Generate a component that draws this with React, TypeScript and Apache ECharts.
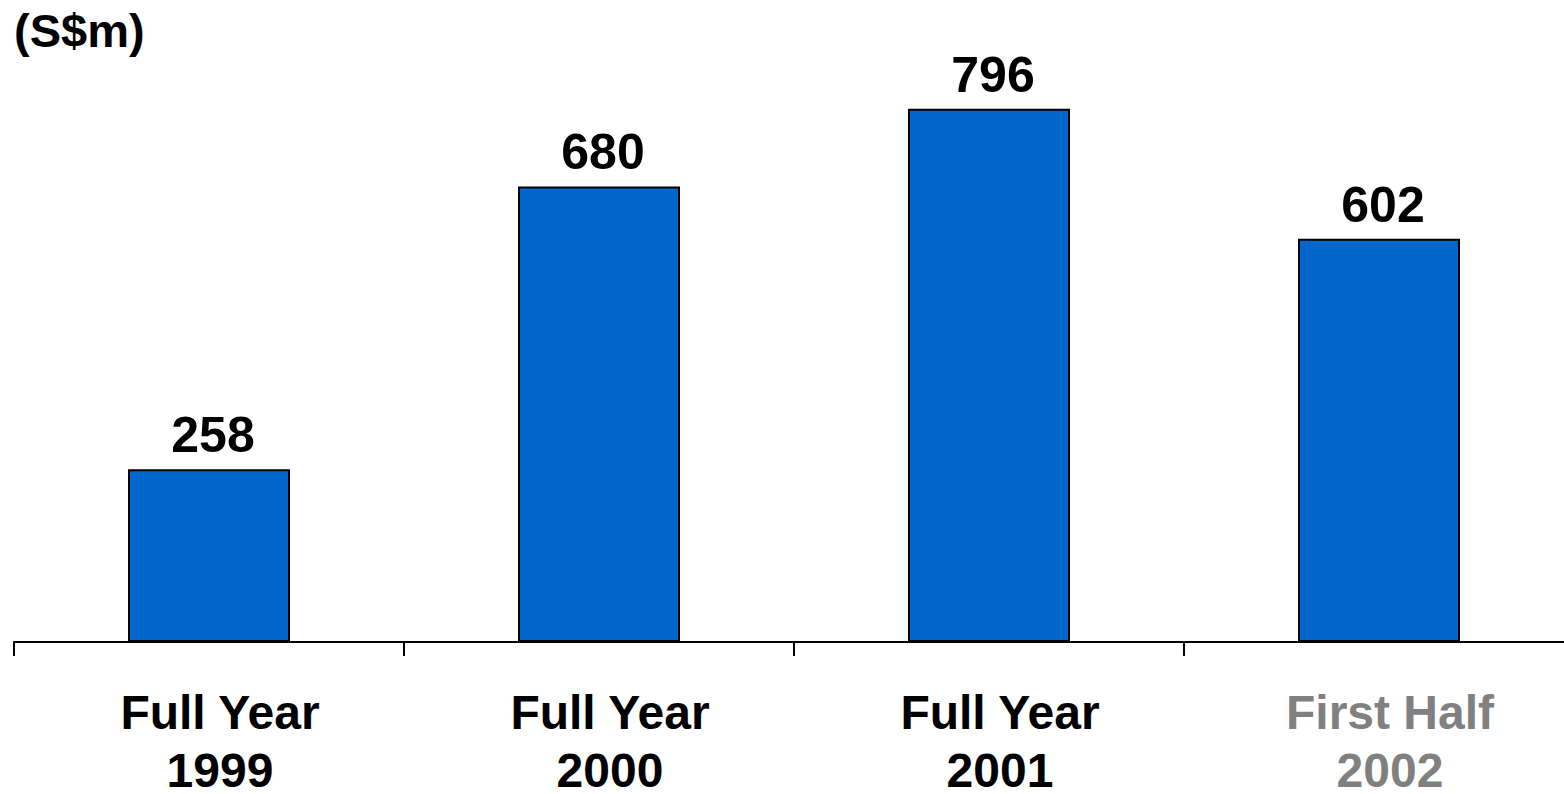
import React, { useEffect, useRef } from "react";
import * as echarts from "echarts";

const categories = ["Full Year\n1999", "Full Year\n2000", "Full Year\n2001", "First Half\n2002"];
const values = [258, 680, 796, 602];
const categoryColors = ["#000000", "#000000", "#000000", "#808080"];
const unitLabel = "(S$m)";

const FONT = '"Liberation Sans", Arial, Helvetica, sans-serif';

export default function App() {
  const ref = useRef<HTMLDivElement>(null);

  useEffect(() => {
    if (!ref.current) return;
    const chart = echarts.init(ref.current, undefined, { renderer: "svg" });
    chart.setOption({
      animation: false,
      backgroundColor: "#ffffff",
      title: {
        text: unitLabel,
        left: 14,
        top: 7,
        padding: 0,
        textStyle: { fontFamily: FONT, fontSize: 47, fontWeight: "bold", color: "#000", lineHeight: 47 },
      },
      grid: {
        left: 14,
        top: 39,
        width: 1560,
        height: 603,
        containLabel: false,
        outerBoundsMode: "none",
      },
      xAxis: {
        type: "category",
        data: categories.map((c, i) => ({ value: c, textStyle: { color: categoryColors[i] } })),
        boundaryGap: true,
        axisLine: { show: true, lineStyle: { color: "#000", width: 2 } },
        axisTick: { show: true, length: 14, lineStyle: { color: "#000", width: 2 } },
        axisLabel: {
          interval: 0,
          margin: 41,
          fontFamily: FONT,
          fontSize: 48,
          fontWeight: "bold",
          lineHeight: 58,
          padding: [0, 0, 0, 22],
        },
      },
      yAxis: {
        type: "value",
        min: 0,
        max: 900,
        show: false,
        splitLine: { show: false },
      },
      series: [
        {
          type: "bar",
          data: values,
          barWidth: 162,
          itemStyle: { color: "#0066CC", borderColor: "#000", borderWidth: 2 },
          label: {
            show: true,
            position: "top",
            distance: 9,
            padding: [0, 0, 0, 8],
            fontFamily: FONT,
            fontSize: 50,
            fontWeight: "bold",
            color: "#000",
            lineHeight: 50,
          },
        },
      ],
    });
    return () => chart.dispose();
  }, []);

  return (
    <div
      ref={ref}
      style={{ position: "fixed", left: 0, top: 0, width: 1564, height: 794, background: "#fff" }}
    />
  );
}
